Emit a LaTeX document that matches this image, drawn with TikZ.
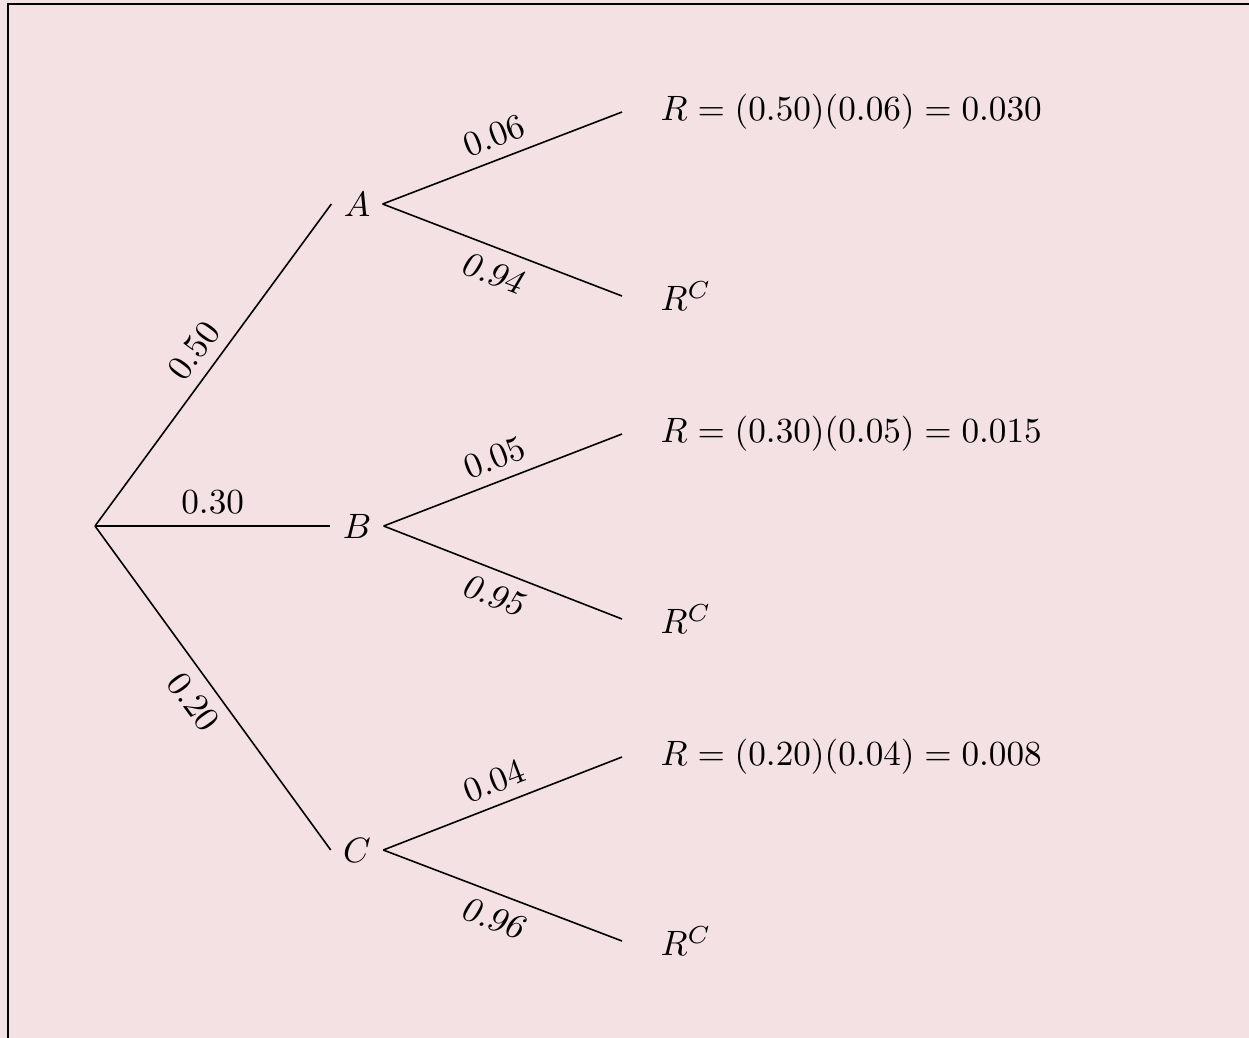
\documentclass[tikz,border=0pt]{standalone}
\usetikzlibrary{calc}
\definecolor{bgpink}{RGB}{243,225,227}
\begin{document}
\begin{tikzpicture}[x=0.284pt,y=-0.284pt,
  branch/.style={line width=0.45pt},
  inner/.style={inner sep=3.33pt},
  leaf/.style={anchor=west,inner xsep=10.8pt,inner ysep=0pt},
  lab/.style={font=\normalsize}]
\useasboundingbox (0,0) rectangle (1249,1038);
\fill[bgpink] (0,0) rectangle (1249,1038);
\draw[line width=0.55pt] (8,1100) -- (8,4) -- (1300,4);
% nodes
\coordinate (root) at (95,526);
\node[inner] (A) at (357,204) {$A$};
\node[inner] (B) at (357,526) {$B$};
\node[inner] (C) at (357,850) {$C$};
\node[leaf] (AR) at (622,112) {$R=(0.50)(0.06)=0.030$};
\node[leaf] (ARc) at (622,296) {$R^C$};
\node[leaf] (BR) at (622,434) {$R=(0.30)(0.05)=0.015$};
\node[leaf] (BRc) at (622,619) {$R^C$};
\node[leaf] (CR) at (622,757) {$R=(0.20)(0.04)=0.008$};
\node[leaf] (CRc) at (622,941) {$R^C$};
% edges
\draw[branch] (root) -- node[above,sloped] {$0.50$} (A.west);
\draw[branch] (root) -- node[above] {$0.30$} (B.west);
\draw[branch] (root) -- node[below,sloped] {$0.20$} (C.west);
\draw[branch] (A.east) -- node[above,sloped] {$0.06$} (AR.west);
\draw[branch] (A.east) -- node[below,sloped] {\textsl{0.94}} (ARc.west);
\draw[branch] (B.east) -- node[above,sloped] {$0.05$} (BR.west);
\draw[branch] (B.east) -- node[below,sloped] {\textsl{0.95}} (BRc.west);
\draw[branch] (C.east) -- node[above,sloped] {$0.04$} (CR.west);
\draw[branch] (C.east) -- node[below,sloped] {\textsl{0.96}} (CRc.west);
\end{tikzpicture}
\end{document}
